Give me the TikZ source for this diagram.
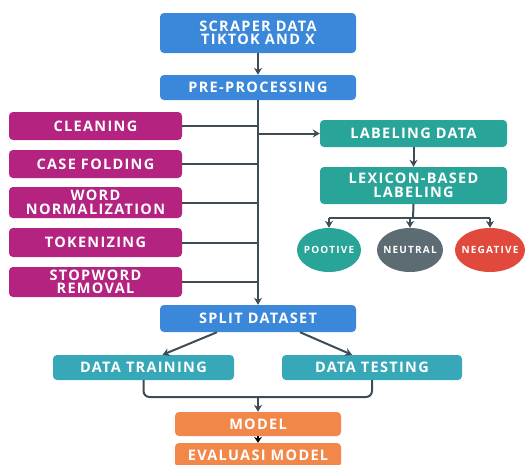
\documentclass[tikz,border=0pt]{standalone}
\usepackage{fontspec}
\setmainfont{Open Sans}[LetterSpace=9]
\newfontfamily\circfont{Open Sans}[LetterSpace=12]
\usetikzlibrary{arrows.meta,shapes.geometric}
\definecolor{cblue}{HTML}{3B87D9}
\definecolor{cmag}{HTML}{B3237F}
\definecolor{cteal}{HTML}{28A498}
\definecolor{cgray}{HTML}{5D6C72}
\definecolor{cred}{HTML}{E0493B}
\definecolor{ccyan}{HTML}{36A8B8}
\definecolor{corange}{HTML}{F2874A}
\definecolor{cline}{HTML}{3E4D55}
\tikzset{
  box/.style={rounded corners=4pt, text=white, align=center, inner sep=0pt,
    font=\bfseries\fontsize{14.5}{13.5}\selectfont},
  bluebox/.style={box, fill=cblue, minimum width=196pt},
  magbox/.style={box, fill=cmag, minimum width=173pt},
  tealbox/.style={box, fill=cteal, minimum width=187pt},
  cyanbox/.style={box, fill=ccyan, minimum width=181pt},
  orbox/.style={box, fill=corange, minimum width=166pt, minimum height=24pt},
  circ/.style={ellipse, inner sep=0pt, minimum height=44pt},
  circtext/.style={text=white, inner sep=0pt,
    font=\circfont\bfseries\fontsize{10}{11}\selectfont},
  conn/.style={draw=cline, line width=2pt},
  arr/.style={conn, -{Stealth[length=7pt,width=8pt]}},
}
\begin{document}
\begin{tikzpicture}[x=1pt,y=-1pt]
\useasboundingbox (0,0) rectangle (527,464);
\clip (0,0) rectangle (527,464);
\fill[white] (0,0) rectangle (527,464);
% main column
\node[bluebox, minimum height=40pt] (scr) at (258,33) {SCRAPER DATA\\TIKTOK AND X};
\node[bluebox, minimum height=25pt] (pre) at (258,87.5) {PRE-PROCESSING};
\node[bluebox, minimum height=27pt] (split) at (258,318.5) {SPLIT DATASET};
% preprocessing steps
\node[magbox, minimum height=28pt] (clean) at (95.5,126) {CLEANING};
\node[magbox, minimum height=28pt] (case) at (95.5,164) {CASE FOLDING};
\node[magbox, minimum height=31pt] (word) at (95.5,202.5) {WORD\\NORMALIZATION};
\node[magbox, minimum height=29pt] (tok) at (95.5,242.5) {TOKENIZING};
\node[magbox, minimum height=30pt] (stop) at (95.5,282) {STOPWORD\\REMOVAL};
% labeling
\node[tealbox, minimum height=27pt] (lab) at (413.5,133.5) {LABELING DATA};
\node[tealbox, minimum height=37pt] (lex) at (413.5,185.5) {LEXICON-BASED\\LABELING};
\node[circ, fill=cteal, minimum width=64pt, label={[circtext]center:POOTIVE}] (pos) at (329,250) {};
\node[circ, fill=cgray, minimum width=66pt, label={[circtext]center:NEUTRAL}] (neu) at (410,250) {};
\node[circ, fill=cred, minimum width=70pt, label={[circtext]center:NEGATIVE}] (neg) at (490,250) {};
% split
\node[cyanbox, minimum height=25pt] (train) at (143.5,367.5) {DATA TRAINING};
\node[cyanbox, minimum height=25pt, minimum width=180pt] (test) at (372,367.5) {DATA TESTING};
\node[orbox] (model) at (258,424) {MODEL};
\node[orbox] (eval) at (258,455) {EVALUASI MODEL};
% connectors
\draw[arr] (scr.south) -- (pre.north);
\draw[arr, line width=2.5pt] (pre.south) -- (split.north);
\foreach \n in {clean,case,word,tok,stop}
  \draw[conn] (\n.east) -- (\n.east -| pre.south);
\draw[arr] (lab.west -| pre.south) -- (lab.west);
\draw[arr] (lab.south) -- (lex.north);
\coordinate (br) at (413,218);
\draw[conn] (lex.south) -- (br);
\draw[conn] (pos.north |- br) -- (neg.north |- br);
\foreach \n in {pos,neu,neg}
  \draw[arr] (\n.north |- br) -- (\n.north);
\draw[arr] ([xshift=-41pt]split.south) -- ([xshift=19pt]train.north);
\draw[arr] ([xshift=42pt]split.south) -- ([xshift=-20pt]test.north);
\coordinate (m) at (258,397);
\draw[conn, rounded corners=6pt] (train.south) |- (m) -| (test.south);
\draw[arr] (m) -- (model.north);
\draw[draw=black, line width=2pt, -{Stealth[length=6pt,width=8pt]}] (model.south) -- (eval.north);
\end{tikzpicture}
\end{document}
